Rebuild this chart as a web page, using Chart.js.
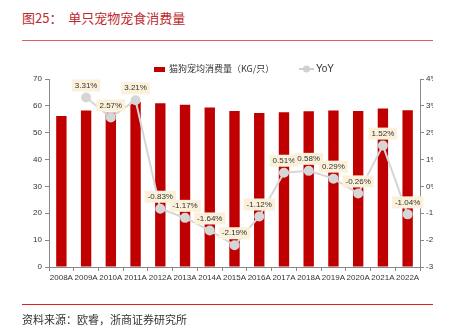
<!DOCTYPE html>
<html>
<head>
<meta charset="utf-8">
<script src="https://cdn.jsdelivr.net/npm/chart.js@4"></script>
<style>
body{margin:0;background:#fff;width:453px;height:334px;position:relative;overflow:hidden;font-family:"Liberation Sans",Arial,sans-serif;}
#titulo{position:absolute;left:22px;top:8px;font-family:"Noto Sans CJK SC",sans-serif;font-size:13px;color:#c0282d;white-space:pre;}
#linha1{position:absolute;left:22px;top:40px;width:411px;height:1px;background:#e06060;}
#linha2{position:absolute;left:22px;top:304px;width:411px;height:1px;background:#e02020;}
#fonte{position:absolute;left:22px;top:311px;font-family:"Noto Sans CJK SC",sans-serif;font-size:11px;color:#333;}
#legenda{position:absolute;left:153px;top:61px;font-size:9px;color:#333;height:14px;}
.leg{position:absolute;white-space:nowrap;line-height:14px;}
#caixa{position:absolute;left:154px;top:67px;width:11px;height:5px;background:#c00000;}
#wrap{position:absolute;left:0;top:0;width:433px;height:334px;overflow:hidden;}
</style>
</head>
<body>
<div id="titulo">图25：  单只宠物宠食消费量</div>
<div id="linha1"></div>
<div id="wrap"><canvas id="grafico" width="453" height="334"></canvas></div>
<div id="caixa"></div>
<div class="leg" style="left:169px;top:62px;font-family:'Noto Sans CJK SC',sans-serif;font-size:9px;color:#333;">猫狗宠均消费量（KG/只）</div>
<svg style="position:absolute;left:299px;top:64px" width="16" height="10"><line x1="0" y1="5" x2="15" y2="5" stroke="#d0d0d0" stroke-width="2"/><circle cx="7.5" cy="5" r="3.5" fill="#d0d0d0"/></svg>
<div class="leg" style="left:316px;top:62px;font-size:10px;color:#333;">YoY</div>
<div id="linha2"></div>
<div id="fonte">资料来源：欧睿，浙商证券研究所</div>
<script>
const anos = ["2008A","2009A","2010A","2011A","2012A","2013A","2014A","2015A","2016A","2017A","2018A","2019A","2020A","2021A","2022A"];
const consumo = [56.2,58.3,57.4,61.4,61.0,60.4,59.4,58.1,57.3,57.6,58.0,58.3,58.1,59.0,58.4];
const yoy = [null,3.31,2.57,3.21,-0.83,-1.17,-1.64,-2.19,-1.12,0.51,0.58,0.29,-0.26,1.52,-1.04];
const ticksEsq = [0,70,10];
const ticksDir = [-3,4,1];

const rotulos = {
  id:"rotulos",
  afterDatasetsDraw(chart){
    const c = chart.ctx;
    const meta = chart.getDatasetMeta(1);
    c.save();
    c.font = "8px 'Liberation Sans', Arial, sans-serif";
    c.textAlign = "center";
    c.textBaseline = "middle";
    meta.data.forEach((p,i)=>{
      const v = yoy[i];
      if(v === null) return;
      const txt = v.toFixed(2)+"%";
      const w = c.measureText(txt).width + 6;
      const x = p.x, y = p.y - 12;
      c.fillStyle = "#fbf1da";
      c.fillRect(x-w/2, y-6, w, 12);
      c.fillStyle = "#333";
      c.fillText(txt, x, y);
    });
    c.restore();
  }
};

const ctx = document.getElementById("grafico");

new Chart(ctx,{
  type:"bar",
  data:{
    labels:anos,
    datasets:[{
      label:"猫狗宠均消费量（KG/只）",
      data:consumo,
      backgroundColor:"#c00000",
      barPercentage:0.42,
      categoryPercentage:1,
      yAxisID:"y",
      order:2
    },{
      type:"line",
      label:"YoY",
      data:yoy,
      borderColor:"#d6d6d6",
      borderWidth:2,
      pointRadius:4,
      pointBackgroundColor:"#d6d6d6",
      pointBorderColor:"#d6d6d6",
      tension:0,
      yAxisID:"y1",
      order:1
    }]
  },
  options:{
    responsive:false,
    animation:false,
    layout:{padding:{top:79,left:0,right:0,bottom:0}},
    plugins:{legend:{display:false},tooltip:{enabled:false}},
    scales:{
      x:{
        grid:{offset:true,drawOnChartArea:false,tickLength:4,color:"#888"},
        border:{color:"#888"},
        ticks:{font:{size:8,family:"'Liberation Sans', Arial"},color:"#333",maxRotation:0,autoSkip:false,padding:2},
        afterFit(s){ s.height = 67; }
      },
      y:{
        position:"left",
        min:ticksEsq[0],max:ticksEsq[1],
        ticks:{stepSize:ticksEsq[2],font:{size:8,family:"'Liberation Sans', Arial"},color:"#333",padding:3},
        grid:{drawOnChartArea:false,tickLength:4,color:"#888"},
        border:{color:"#888"},
        afterFit(s){ s.width = 49; }
      },
      y1:{
        position:"right",
        min:ticksDir[0],max:ticksDir[1],
        ticks:{stepSize:ticksDir[2],font:{size:8,family:"'Liberation Sans', Arial"},color:"#333",padding:2,callback:v=>v+"%"},
        grid:{drawOnChartArea:false,tickLength:4,color:"#888"},
        border:{color:"#888"},
        afterFit(s){ s.width = 33; }
      }
    }
  },
  plugins:[rotulos]
});
</script>
</body>
</html>
